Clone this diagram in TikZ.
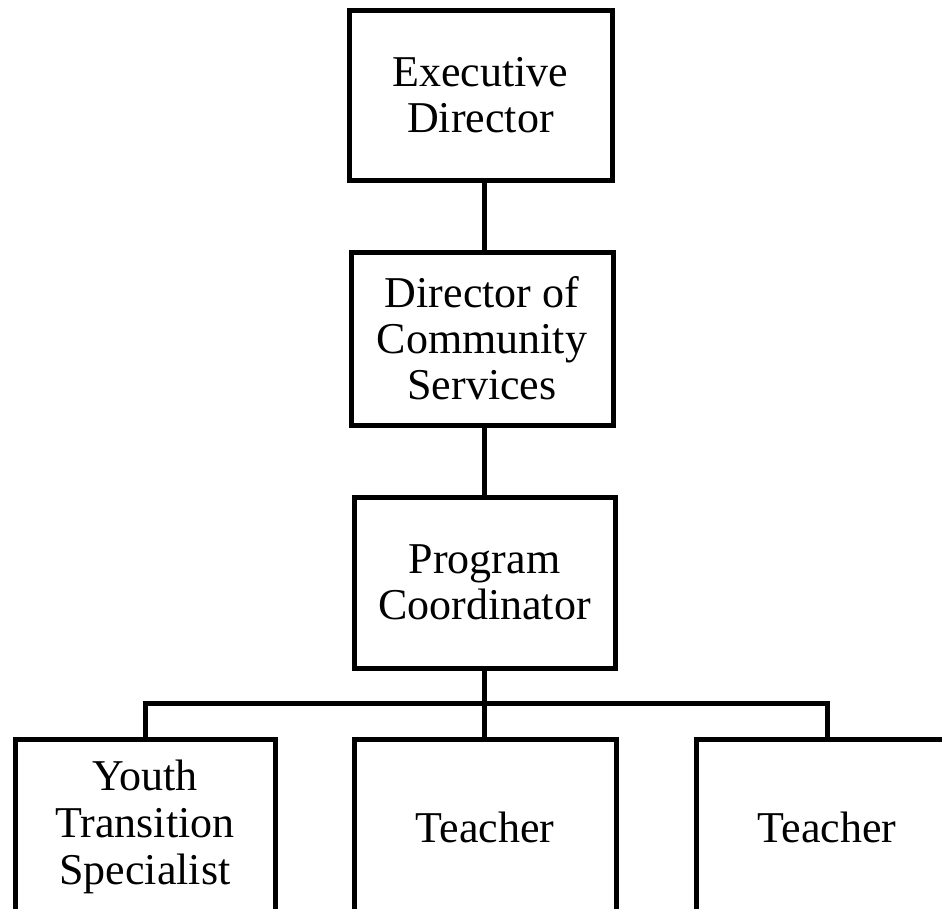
\documentclass[tikz,border=0pt]{standalone}
\usepackage{fontspec}
\setmainfont{Liberation Serif}
\usepackage{tikz}

\begin{document}
\begin{tikzpicture}[x=1pt, y=-1pt,
		orgbox/.style = {draw, line width=5pt, inner sep=0pt, align=center,
			font=\fontsize{44}{46}\selectfont},
		link/.style = {line width=5pt}]
		\useasboundingbox (0,0) rectangle (942,908);
		\clip (0,0) rectangle (942,908);
		\node[orgbox, minimum width=263pt, minimum height=170pt] (exec) at (480.5,95) {Executive\\Director};
		\node[orgbox, minimum width=262pt, minimum height=173pt] (dircs) at (482,338.5) {Director of\\Community\\Services};
		\node[orgbox, minimum width=261pt, minimum height=171pt] (progc) at (484.5,582.5) {Program\\Coordinator};
		\node[orgbox, minimum width=260pt, minimum height=176pt, font=\fontsize{44}{47}\selectfont] (yts) at (145,827) {Youth\\Transition\\Specialist};
		\node[orgbox, minimum width=262pt, minimum height=176pt] (teachA) at (485,827) {Teacher};
		\node[orgbox, minimum width=262pt, minimum height=176pt] (teachB) at (827,827) {Teacher};
		\coordinate (bus) at (484,703);
		\draw[link] (exec.south -| bus) -- (dircs.north -| bus);
		\draw[link] (dircs.south -| bus) -- (progc.north -| bus);
		\draw[link] (progc.south -| bus) -- (teachA.north -| bus);
		\draw[link, line join=miter] (yts.north) |- (bus) -| (teachB.north);
	\end{tikzpicture}
\end{document}
